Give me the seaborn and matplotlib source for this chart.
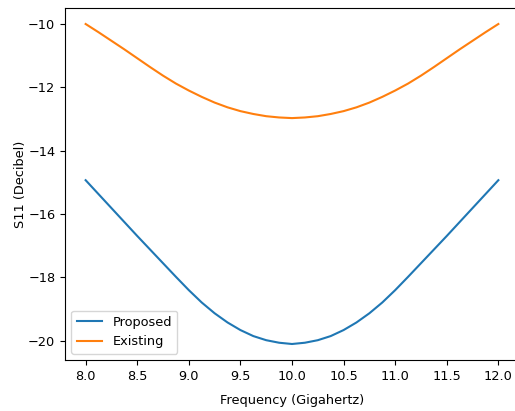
import matplotlib
matplotlib.use("Agg")
import matplotlib.pyplot as plt
import seaborn as sns
import pandas as pd

freq = [8.0, 8.125, 8.25, 8.375, 8.5, 8.625, 8.75, 8.875, 9.0,
        9.125, 9.25, 9.375, 9.5, 9.625, 9.75, 9.875, 10.0,
        10.125, 10.25, 10.375, 10.5, 10.625, 10.75, 10.875, 11.0,
        11.125, 11.25, 11.375, 11.5, 11.625, 11.75, 11.875, 12.0]
proposed = [-14.93, -15.37, -15.81, -16.25, -16.69, -17.12, -17.55, -17.98, -18.40,
            -18.79, -19.13, -19.42, -19.66, -19.85, -19.98, -20.06, -20.10,
            -20.06, -19.98, -19.85, -19.66, -19.42, -19.13, -18.79, -18.40,
            -17.98, -17.55, -17.12, -16.69, -16.25, -15.81, -15.37, -14.93]
existing = [-10.00, -10.26, -10.53, -10.80, -11.08, -11.36, -11.63, -11.88, -12.10,
            -12.30, -12.48, -12.63, -12.75, -12.84, -12.91, -12.95, -12.97,
            -12.95, -12.91, -12.84, -12.75, -12.63, -12.48, -12.30, -12.10,
            -11.88, -11.63, -11.36, -11.08, -10.80, -10.53, -10.26, -10.00]
series_names = ["Proposed", "Existing"]
colors = ["#1f77b4", "#ff7f0e"]

df = pd.DataFrame({
    "Frequency": freq + freq,
    "S11": proposed + existing,
    "Series": [series_names[0]] * len(freq) + [series_names[1]] * len(freq),
})

fs = 9.3
fig = plt.figure(figsize=(5.15, 4.11), dpi=100)
ax = fig.add_axes([65 / 515, 51 / 411, 454 / 515, 352 / 411])
sns.lineplot(data=df, x="Frequency", y="S11", hue="Series",
             palette=dict(zip(series_names, colors)), linewidth=1.5, ax=ax)
ax.set_xlabel("Frequency (Gigahertz)", fontsize=fs, labelpad=8)
ax.set_ylabel("S11 (Decibel)", fontsize=fs, labelpad=1)
ax.set_xticks([8.0, 8.5, 9.0, 9.5, 10.0, 10.5, 11.0, 11.5, 12.0])
ax.set_yticks([-20, -18, -16, -14, -12, -10])
ax.tick_params(labelsize=fs)
ax.legend(loc="lower left", fontsize=fs)
fig.savefig("out.png", dpi=100)
